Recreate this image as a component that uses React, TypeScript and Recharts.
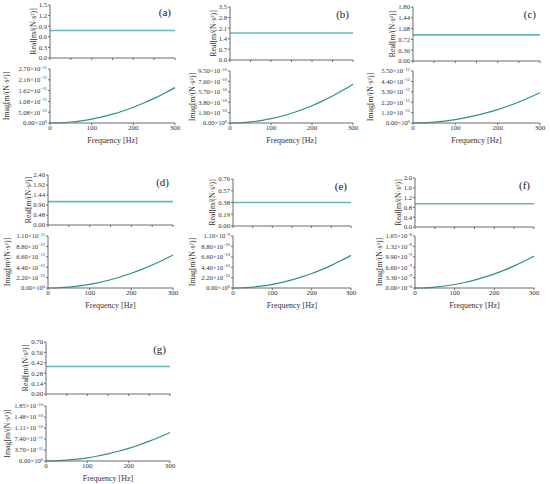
import { LineChart, Line, XAxis, YAxis } from "recharts";

const FONT = "'Liberation Serif', 'Times New Roman', serif";
const AXIS = "#6b6b6b";
const REAL_COLOR = "#66b8b8";
const IMAG_COLOR = "#2f8f8f";

// frequency grid [Hz]
const freqHz = [0, 25, 50, 75, 100, 125, 150, 175, 200, 225, 250, 275, 300];
const freqTicks = [0, 100, 200, 300];
const realFreqTicks = [0, 50, 100, 150, 200, 250, 300];

// (a)
const realA = [0.78, 0.78, 0.78, 0.78, 0.78, 0.78, 0.78, 0.78, 0.78, 0.78, 0.78, 0.78, 0.78];
const imagA = [0, 0.012e-11, 0.05e-11, 0.11e-11, 0.197e-11, 0.31e-11, 0.44e-11, 0.6e-11, 0.79e-11, 1.0e-11, 1.23e-11, 1.49e-11, 1.77e-11];
const realTicksA = [0, 0.3, 0.6, 0.9, 1.2, 1.5];
const realLabelsA = ["0.0", "0.3", "0.6", "0.9", "1.2", "1.5"];
const imagTicksA = [0, 0.54e-11, 1.08e-11, 1.62e-11, 2.16e-11, 2.7e-11];
const imagMantA = ["0.00", "5.08", "1.08", "1.62", "2.16", "2.70"];
const imagExpA = ["0", "\u221212", "\u221211", "\u221211", "\u221211", "\u221211"];

// (b)
const realB = [1.78, 1.78, 1.78, 1.78, 1.78, 1.78, 1.78, 1.78, 1.78, 1.78, 1.78, 1.78, 1.78];
const imagB = [0, 0.05e-10, 0.2e-10, 0.44e-10, 0.79e-10, 1.23e-10, 1.78e-10, 2.42e-10, 3.16e-10, 4.0e-10, 4.93e-10, 5.97e-10, 7.1e-10];
const realTicksB = [0, 0.7, 1.4, 2.1, 2.8, 3.5];
const realLabelsB = ["0.0", "0.7", "1.4", "2.1", "2.8", "3.5"];
const imagTicksB = [0, 1.9e-10, 3.8e-10, 5.7e-10, 7.6e-10, 9.5e-10];
const imagMantB = ["0.00", "1.90", "3.80", "5.70", "7.60", "9.50"];
const imagExpB = ["0", "\u221210", "\u221210", "\u221210", "\u221210", "\u221210"];

// (c)
const realC = [0.87, 0.87, 0.87, 0.87, 0.87, 0.87, 0.87, 0.87, 0.87, 0.87, 0.87, 0.87, 0.87];
const imagC = [0, 0.022e-12, 0.09e-12, 0.2e-12, 0.36e-12, 0.56e-12, 0.8e-12, 1.09e-12, 1.42e-12, 1.8e-12, 2.22e-12, 2.69e-12, 3.2e-12];
const realTicksC = [0, 0.36, 0.72, 1.08, 1.44, 1.8];
const realLabelsC = ["0.00", "0.36", "0.72", "1.08", "1.44", "1.80"];
const imagTicksC = [0, 1.1e-12, 2.2e-12, 3.3e-12, 4.4e-12, 5.5e-12];
const imagMantC = ["0.00", "1.10", "2.20", "3.30", "4.40", "5.50"];
const imagExpC = ["0", "\u221212", "\u221212", "\u221212", "\u221212", "\u221212"];

// (d)
const realD = [1.12, 1.12, 1.12, 1.12, 1.12, 1.12, 1.12, 1.12, 1.12, 1.12, 1.12, 1.12, 1.12];
const imagD = [0, 0.05e-12, 0.19e-12, 0.44e-12, 0.78e-12, 1.22e-12, 1.75e-12, 2.38e-12, 3.11e-12, 3.94e-12, 4.86e-12, 5.88e-12, 7.0e-12];
const realTicksD = [0, 0.48, 0.96, 1.44, 1.92, 2.4];
const realLabelsD = ["0.00", "0.48", "0.96", "1.44", "1.92", "2.40"];
const imagTicksD = [0, 2.2e-12, 4.4e-12, 6.6e-12, 8.8e-12, 1.1e-11];
const imagMantD = ["0.00", "2.20", "4.40", "6.60", "8.80", "1.10"];
const imagExpD = ["0", "\u221212", "\u221212", "\u221212", "\u221212", "\u221211"];

// (e)
const realE = [0.38, 0.38, 0.38, 0.38, 0.38, 0.38, 0.38, 0.38, 0.38, 0.38, 0.38, 0.38, 0.38];
const imagE = [0, 0.05e-10, 0.19e-10, 0.43e-10, 0.77e-10, 1.2e-10, 1.73e-10, 2.35e-10, 3.07e-10, 3.88e-10, 4.79e-10, 5.8e-10, 6.9e-10];
const realTicksE = [0, 0.19, 0.38, 0.57, 0.76];
const realLabelsE = ["0.00", "0.19", "0.38", "0.57", "0.76"];
const imagTicksE = [0, 2.2e-10, 4.4e-10, 6.6e-10, 8.8e-10, 1.1e-9];
const imagMantE = ["0.00", "2.20", "4.40", "6.60", "8.80", "1.10"];
const imagExpE = ["0", "\u221210", "\u221210", "\u221210", "\u221210", "\u22129"];

// (f)
const realF = [0.95, 0.95, 0.95, 0.95, 0.95, 0.95, 0.95, 0.95, 0.95, 0.95, 0.95, 0.95, 0.95];
const imagF = [0, 0.07e-9, 0.28e-9, 0.63e-9, 1.12e-9, 1.75e-9, 2.52e-9, 3.44e-9, 4.49e-9, 5.68e-9, 7.01e-9, 8.49e-9, 10.1e-9];
const realTicksF = [0, 0.4, 0.8, 1.2, 1.6, 2.0];
const realLabelsF = ["0.0", "0.4", "0.8", "1.2", "1.6", "2.0"];
const imagTicksF = [0, 3.3e-9, 6.6e-9, 9.9e-9, 1.32e-8, 1.65e-8];
const imagMantF = ["0.00", "3.30", "6.60", "9.90", "1.32", "1.65"];
const imagExpF = ["\u22128", "\u22129", "\u22129", "\u22129", "\u22128", "\u22128"];

// (g)
const realG = [0.37, 0.37, 0.37, 0.37, 0.37, 0.37, 0.37, 0.37, 0.37, 0.37, 0.37, 0.37, 0.37];
const imagG = [0, 0.067e-11, 0.27e-11, 0.6e-11, 1.07e-11, 1.67e-11, 2.4e-11, 3.27e-11, 4.27e-11, 5.4e-11, 6.67e-11, 8.07e-11, 9.6e-11];
const realTicksG = [0, 0.14, 0.28, 0.42, 0.56, 0.7];
const realLabelsG = ["0.00", "0.14", "0.28", "0.42", "0.56", "0.70"];
const imagTicksG = [0, 3.7e-11, 7.4e-11, 1.11e-10, 1.48e-10, 1.85e-10];
const imagMantG = ["0.00", "3.70", "7.40", "1.11", "1.48", "1.85"];
const imagExpG = ["0", "\u221211", "\u221211", "\u221210", "\u221210", "\u221210"];

type PanelProps = {
  tag: string;
  x0: number;
  x1: number;
  rT: number;
  rB: number;
  iT: number;
  iB: number;
  realOff: number;
  imagOff: number;
  real: number[];
  imag: number[];
  realTicks: number[];
  realLabels: string[];
  imagTicks: number[];
  imagMant: string[];
  imagExp: string[];
};

const YW = 52;
const MT = 5;
const MR = 8;

function makeImagTick(mant: string[], exp: string[]) {
  return (props: any) => {
    const { x, y, index } = props;
    return (
      <text x={x} y={y} dy={2.4} textAnchor="end" fontSize={6.6} fontFamily={FONT} fill="#333">
        {mant[index]}×10
        <tspan dy={-2.8} fontSize={4.4}>{exp[index]}</tspan>
      </text>
    );
  };
}

function Panel(p: PanelProps) {
  const rows = freqHz.map((f, i) => ({ f, re: p.real[i], im: p.imag[i] }));
  const plotW = p.x1 - p.x0;
  const realH = p.rB - p.rT;
  const imagH = p.iB - p.iT;
  const tickStyle = { fontSize: 7, fontFamily: FONT, fill: "#333" };
  return (
    <>
      <div style={{ position: "absolute", left: p.x0 - YW, top: p.rT - MT }}>
        <LineChart width={YW + plotW + MR} height={MT + realH + 4} data={rows} margin={{ top: MT, right: MR, left: 0, bottom: 0 }}>
          <XAxis
            dataKey="f"
            type="number"
            domain={[0, 300]}
            ticks={realFreqTicks}
            tickFormatter={() => ""}
            height={4}
            tickSize={2}
            stroke={AXIS}
          />
          <YAxis
            type="number"
            domain={[0, p.realTicks[p.realTicks.length - 1]]}
            ticks={p.realTicks}
            interval={0}
            tickFormatter={(_v: number, i: number) => p.realLabels[i]}
            width={YW}
            tickSize={2}
            tickMargin={1}
            tick={{ ...tickStyle, fontSize: 6.7 }}
            stroke={AXIS}
            label={{
              value: "Real[m/(N·s²)]",
              angle: -90,
              position: "insideLeft",
              offset: YW - p.realOff,
              style: { textAnchor: "middle", fontSize: 7.8, fontFamily: FONT, fill: "#333" },
            }}
          />
          <Line dataKey="re" stroke={REAL_COLOR} strokeWidth={1.6} dot={false} isAnimationActive={false} />
        </LineChart>
      </div>
      <div style={{ position: "absolute", left: p.x0 - YW, top: p.iT - MT }}>
        <LineChart width={YW + plotW + MR} height={MT + imagH + 24} data={rows} margin={{ top: MT, right: MR, left: 0, bottom: 0 }}>
          <XAxis
            dataKey="f"
            type="number"
            domain={[0, 300]}
            ticks={freqTicks}
            interval={0}
            height={24}
            tickSize={2}
            tickMargin={0}
            tick={tickStyle}
            stroke={AXIS}
            label={{
              value: "Frequency [Hz]",
              position: "insideBottom",
              offset: 4,
              style: { fontSize: 8, fontFamily: FONT, fill: "#333" },
            }}
          />
          <YAxis
            type="number"
            domain={[0, p.imagTicks[p.imagTicks.length - 1]]}
            ticks={p.imagTicks}
            interval={0}
            width={YW}
            tickSize={2}
            tickMargin={1}
            tick={makeImagTick(p.imagMant, p.imagExp)}
            stroke={AXIS}
            label={{
              value: "Imag[m/(N·s²)]",
              angle: -90,
              position: "insideLeft",
              offset: YW - p.imagOff,
              style: { textAnchor: "middle", fontSize: 7.8, fontFamily: FONT, fill: "#333" },
            }}
          />
          <Line type="monotone" dataKey="im" stroke={IMAG_COLOR} strokeWidth={1.2} dot={false} isAnimationActive={false} />
        </LineChart>
      </div>
      <div
        style={{
          position: "absolute",
          left: p.x1 - 30,
          width: 26,
          top: p.rT + 1,
          textAlign: "right",
          fontFamily: FONT,
          fontSize: 11,
          color: "#222",
        }}
      >
        {p.tag}
      </div>
    </>
  );
}

export default function App() {
  return (
    <div style={{ position: "absolute", left: 0, top: 0, width: 550, height: 484, background: "#fff", overflow: "hidden" }}>
      <style>{"svg { overflow: visible; }"}</style>
      <Panel tag="(a)" x0={50} x1={175} rT={5} rB={58} iT={69} iB={123} realOff={17} imagOff={44} real={realA} imag={imagA}
        realTicks={realTicksA} realLabels={realLabelsA} imagTicks={imagTicksA} imagMant={imagMantA} imagExp={imagExpA} />
      <Panel tag="(b)" x0={230} x1={353} rT={7} rB={60} iT={71} iB={123} realOff={17} imagOff={38} real={realB} imag={imagB}
        realTicks={realTicksB} realLabels={realLabelsB} imagTicks={imagTicksB} imagMant={imagMantB} imagExp={imagExpB} />
      <Panel tag="(c)" x0={413} x1={540} rT={7} rB={61} iT={71} iB={123} realOff={21} imagOff={43} real={realC} imag={imagC}
        realTicks={realTicksC} realLabels={realLabelsC} imagTicks={imagTicksC} imagMant={imagMantC} imagExp={imagExpC} />
      <Panel tag="(d)" x0={48} x1={173} rT={175} rB={225} iT={236} iB={288} realOff={20} imagOff={41} real={realD} imag={imagD}
        realTicks={realTicksD} realLabels={realLabelsD} imagTicks={imagTicksD} imagMant={imagMantD} imagExp={imagExpD} />
      <Panel tag="(e)" x0={233} x1={351} rT={179} rB={226} iT={236} iB={288} realOff={21} imagOff={41} real={realE} imag={imagE}
        realTicks={realTicksE} realLabels={realLabelsE} imagTicks={imagTicksE} imagMant={imagMantE} imagExp={imagExpE} />
      <Panel tag="(f)" x0={415} x1={534} rT={178} rB={227} iT={236} iB={288} realOff={17} imagOff={36} real={realF} imag={imagF}
        realTicks={realTicksF} realLabels={realLabelsF} imagTicks={imagTicksF} imagMant={imagMantF} imagExp={imagExpF} />
      <Panel tag="(g)" x0={46} x1={170} rT={342} rB={394} iT={406} iB={461} realOff={21} imagOff={39} real={realG} imag={imagG}
        realTicks={realTicksG} realLabels={realLabelsG} imagTicks={imagTicksG} imagMant={imagMantG} imagExp={imagExpG} />
    </div>
  );
}
